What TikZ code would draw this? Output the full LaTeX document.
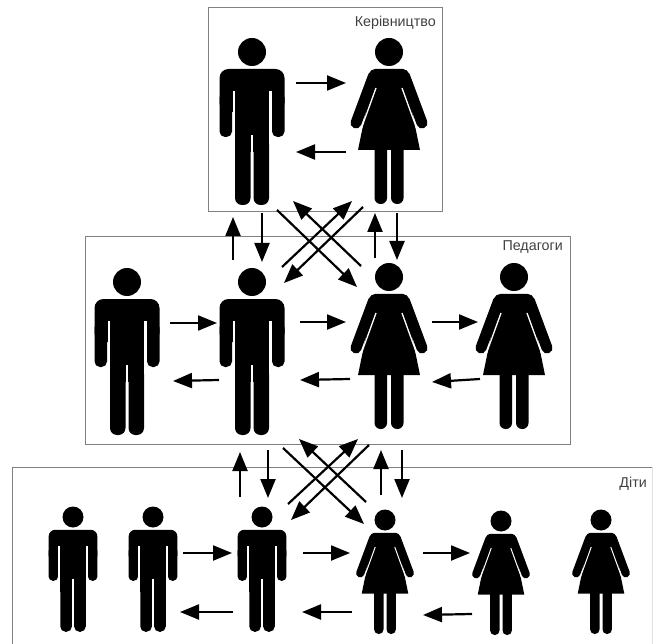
\documentclass[tikz,border=0pt]{standalone}
\usepackage{fontspec}
\setmainfont{Liberation Sans}
\usetikzlibrary{calc,arrows.meta}
\tikzset{
	frame/.style={draw=black!50, line width=1pt},
	arr/.style={line width=2.2pt, -{Triangle[length=19pt,width=15pt]}},
	lab/.style={text=black!75, inner sep=0pt, anchor=east, font=\fontsize{14.3}{16}\selectfont}
}
\def\manfig(#1)(#2,#3)(#4){
	\coordinate (#1) at (#2,#3);
	\begin{scope}[shift={(#1)},scale=#4]
		\fill (0,0) circle (14);
		\fill[rounded corners=#4*9pt] (-32.5,17) -- (32.5,17) -- (32.5,60) -- (-32.5,60) -- cycle;
		\fill[rounded corners=#4*5.5pt] (-32.5,40) rectangle (-20,85);
		\fill[rounded corners=#4*5.5pt] (20,40) rectangle (32.5,85);
		\fill (-17,25) rectangle (17,100);
		\fill[rounded corners=#4*7pt] (-17,85) rectangle (-1.5,153);
		\fill[rounded corners=#4*7pt] (1.5,85) rectangle (17,153);
		\fill[white] (-1.2,83) rectangle (1.2,100);
		\fill[white] (-19.5,39) rectangle (-17,87);
		\fill[white] (17,39) rectangle (19.5,87);
	\end{scope}
}
\def\womanfig(#1)(#2,#3)(#4){
	\coordinate (#1) at (#2,#3);
	\begin{scope}[shift={(#1)},scale=#4]
		\fill (0,0) circle (14);
		\draw[line width=#4*11pt, line cap=round] (-15.5,24) -- (-33,71);
		\draw[line width=#4*11pt, line cap=round] (15.5,24) -- (33,71);
		\fill[rounded corners=#4*5pt] (-19,17) -- (19,17) -- (23,40) -- (-23,40) -- cycle;
		\fill (-17,30) -- (17,30) -- (31,98) -- (-31,98) -- cycle;
		\fill[rounded corners=#4*6pt] (-14.5,90) rectangle (-2,152);
		\fill[rounded corners=#4*6pt] (2,90) rectangle (14.5,152);
		\draw[white, line width=#4*1.3pt] (-13,36) -- (-27.5,76);
		\draw[white, line width=#4*1.3pt] (13,36) -- (27.5,76);
	\end{scope}
}
\begin{document}
\begin{tikzpicture}[x=1pt,y=-1pt]
	\useasboundingbox (0,0) rectangle (653,644);
	%%%%% frames
	\draw[frame] (208,8) rectangle (442,212);
	\draw[frame] (85,237) rectangle (570,444);
	\draw[frame] (12,644) -- (12,467) -- (653,467);
	\draw[black!12] (652.5,467) -- (652.5,644);
	
	\node[lab] (lead) at (436,23) {Керівництво};
	\node[lab] (teach) at (563,247) {Педагоги};
	\node[lab] (kids) at (647,484) {Діти};
	
	%%%%% figures
	\manfig(lm)(252,52)(1);
	\womanfig(lw)(389,52)(1);
	
	\manfig(tm1)(127,282)(1);
	\manfig(tm2)(252,282)(1);
	\womanfig(tw1)(389,277)(1);
	\womanfig(tw2)(514,277)(1);
	
	\manfig(bm1)(73,517)(0.75);
	\manfig(bm2)(153,517)(0.75);
	\manfig(bm3)(262,517)(0.75);
	\womanfig(bw1)(385,520)(0.75);
	\womanfig(bw2)(501,521)(0.75);
	\womanfig(bw3)(601,520)(0.75);
	
	%%%%% top frame
	\draw[arr] ($(lm)+(44,31)$) -- ($(lw)+(-43,31)$);
	\draw[arr] ($(lw)+(-43,100)$) -- ($(lm)+(44,100)$);
	
	%%%%% top to middle
	\draw[arr] ($(tm2)+(-19,-22)$) -- ($(lm)+(-19,165)$);
	\draw[arr] ($(lm)+(10,161)$) -- ($(tm2)+(10,-20)$);
	\draw[arr] ($(tw1)+(-14,-19)$) -- ($(lw)+(-14,161)$);
	\draw[arr] ($(lw)+(8,161)$) -- ($(tw1)+(8,-17)$);
	\draw[arr] ($(lm)+(25,158)$) -- ($(tw1)+(-32,10)$);
	\draw[arr] ($(tw1)+(-28,-11)$) -- ($(lm)+(41,149)$);
	\draw[arr] ($(tm2)+(30,-15)$) -- ($(lw)+(-37,149)$);
	\draw[arr] ($(lw)+(-26,155)$) -- ($(tm2)+(32,1)$);
	
	%%%%% middle frame
	\draw[arr] ($(tm1)+(43,41)$) -- ($(tm2)+(-35,41)$);
	\draw[arr] ($(tm2)+(48,40)$) -- ($(tw1)+(-43,45)$);
	\draw[arr] ($(tw1)+(43,45)$) -- ($(tw2)+(-36,45)$);
	\draw[arr] ($(tm2)+(-33,98)$) -- ($(tm1)+(46,99)$);
	\draw[arr] ($(tw1)+(-39,102)$) -- ($(tm2)+(48,98)$);
	\draw[arr] ($(tw2)+(-34,102)$) -- ($(tw1)+(43,105)$);
	
	%%%%% middle to bottom
	\draw[arr] ($(bm3)+(-22,-20)$) -- ($(tm2)+(-12,170)$);
	\draw[arr] ($(tm2)+(16,168)$) -- ($(bm3)+(6,-19)$);
	\draw[arr] ($(bw1)+(-4,-25)$) -- ($(tw1)+(-8,173)$);
	\draw[arr] ($(tw1)+(13,173)$) -- ($(bw1)+(17,-22)$);
	\draw[arr] ($(tm2)+(31,166)$) -- ($(bw1)+(-21,4)$);
	\draw[arr] ($(bw1)+(-19,-18)$) -- ($(tm2)+(47,157)$);
	\draw[arr] ($(bm3)+(26,-13)$) -- ($(tw1)+(-31,162)$);
	\draw[arr] ($(tw1)+(-20,168)$) -- ($(bm3)+(29,3)$);
	
	%%%%% bottom frame
	\draw[arr] ($(bm2)+(30,36)$) -- ($(bm3)+(-30,36)$);
	\draw[arr] ($(bm3)+(41,36)$) -- ($(bw1)+(-35,33)$);
	\draw[arr] ($(bw1)+(38,33)$) -- ($(bw2)+(-31,32)$);
	\draw[arr] ($(bm3)+(-29,95)$) -- ($(bm2)+(27,95)$);
	\draw[arr] ($(bw1)+(-33,92)$) -- ($(bm3)+(40,95)$);
	\draw[arr] ($(bw2)+(-29,93)$) -- ($(bw1)+(38,95)$);
\end{tikzpicture}
\end{document}
